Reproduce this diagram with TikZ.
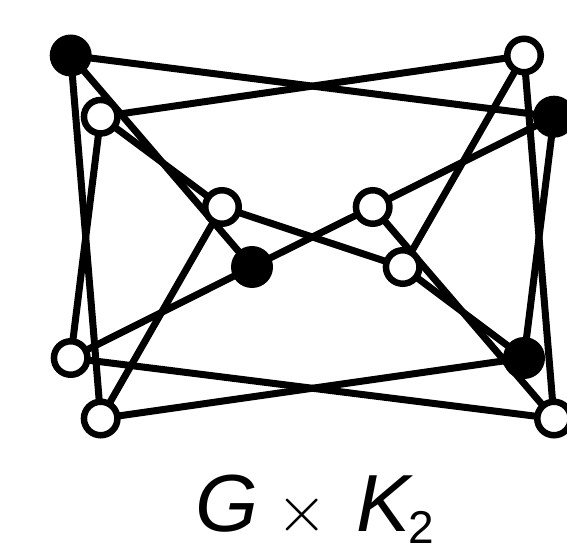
\documentclass[tikz,border=0pt]{standalone}
\usepackage{fontspec}
\usepackage{graphicx}
\setmainfont{Liberation Sans}
\usetikzlibrary{backgrounds}
\newcommand{\bigtimes}{\scalebox{6.6}{\fontsize{10}{12}\selectfont$\times$}}
\begin{document}
\begin{tikzpicture}[x=1pt,y=-1pt,
  edge/.style={line width=7pt},
  vfill/.style={circle,fill=black,draw=none,minimum size=42pt,inner sep=0pt},
  vopen/.style={circle,fill=white,draw=black,line width=6.5pt,minimum size=33.5pt,inner sep=0pt}]
\useasboundingbox (0,0) rectangle (567,545);
% left copy
\node[vfill] (A) at (70.7,55.5) {};
\node[vopen] (F) at (100.7,116.7) {};
\node[vopen] (G) at (222,207) {};
\node[vfill] (C) at (252,267) {};
\node[vopen] (J) at (70.7,358) {};
\node[vopen] (K) at (100.7,418.5) {};
% right copy
\node[vopen] (E) at (524,55.5) {};
\node[vfill] (B) at (554,116.7) {};
\node[vopen] (H) at (372.7,207) {};
\node[vopen] (I) at (402.7,267) {};
\node[vfill] (D) at (524,358) {};
\node[vopen] (L) at (554,418.5) {};
\begin{scope}[on background layer]
\draw[edge] (A.center) -- (B.center);
\draw[edge] (F.center) -- (E.center);
\draw[edge] (G.center) -- (I.center);
\draw[edge] (C.center) -- (H.center);
\draw[edge] (J.center) -- (L.center);
\draw[edge] (K.center) -- (D.center);
\draw[edge] (A.center) -- (K.center);
\draw[edge] (A.center) -- (C.center);
\draw[edge] (F.center) -- (J.center);
\draw[edge] (F.center) -- (G.center);
\draw[edge] (G.center) -- (K.center);
\draw[edge] (C.center) -- (J.center);
\draw[edge] (E.center) -- (L.center);
\draw[edge] (E.center) -- (I.center);
\draw[edge] (B.center) -- (D.center);
\draw[edge] (B.center) -- (H.center);
\draw[edge] (H.center) -- (L.center);
\draw[edge] (I.center) -- (D.center);
\end{scope}
\node[anchor=base west,inner sep=0pt,font=\fontsize{81}{90}\selectfont] (lbl) at (195,531)
  {\textit{G}\hspace{18pt}\bigtimes\hspace{28.5pt}\textit{K}\hspace{-5pt}\raisebox{-12pt}{\fontsize{46}{46}\selectfont 2}};
\end{tikzpicture}
\end{document}
